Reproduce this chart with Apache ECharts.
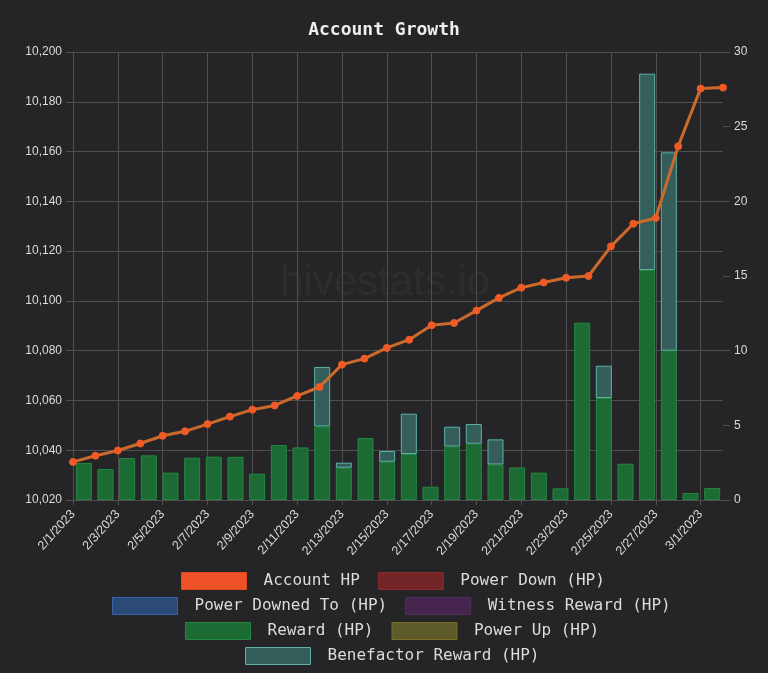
<!DOCTYPE html>
<html>
<head>
<meta charset="utf-8">
<script src="https://cdn.jsdelivr.net/npm/echarts@6/dist/echarts.min.js"></script>
<style>
html,body{margin:0;padding:0;background:#252527;}
#chart{width:768px;height:673px;}
</style>
</head>
<body>
<div id="chart"></div>
<script>
const dates = ['2/1/2023','2/2/2023','2/3/2023','2/4/2023','2/5/2023','2/6/2023','2/7/2023','2/8/2023','2/9/2023','2/10/2023',
  '2/11/2023','2/12/2023','2/13/2023','2/14/2023','2/15/2023','2/16/2023','2/17/2023','2/18/2023','2/19/2023','2/20/2023',
  '2/21/2023','2/22/2023','2/23/2023','2/24/2023','2/25/2023','2/26/2023','2/27/2023','2/28/2023','3/1/2023','3/2/2023'];
const accountHP = [10035.3, 10037.8, 10039.9, 10042.7, 10045.8, 10047.6, 10050.5, 10053.5, 10056.3, 10058.0,
  10061.8, 10065.4, 10074.4, 10076.8, 10081.1, 10084.4, 10090.2, 10091.1, 10096.1, 10101.2,
  10105.3, 10107.4, 10109.3, 10110.0, 10121.9, 10131.0, 10133.3, 10162.1, 10185.3, 10185.7];
const rewardHP = [2.48, 2.08, 2.81, 2.99, 1.83, 2.83, 2.90, 2.89, 1.76, 3.68,
  3.52, 4.93, 2.16, 4.15, 2.56, 3.08, 0.89, 3.59, 3.77, 2.38,
  2.18, 1.83, 0.78, 11.87, 6.83, 2.43, 15.40, 10.00, 0.47, 0.80];
const benefactorHP = [null, null, null, null, null, null, null, null, null, null,
  null, 3.98, 0.34, null, 0.72, 2.70, null, 1.32, 1.32, 1.68,
  null, null, null, null, 2.16, null, 13.15, 13.28, null, null];
const powerDownHP = [];
const powerDownedToHP = [];
const witnessRewardHP = [];
const powerUpHP = [];

const gridColor = '#4f4f51';
const textColor = '#dcdcdc';
const mono = '"DejaVu Sans Mono", monospace';
const sans = '"Liberation Sans", Arial, sans-serif';

const colors = {
  account: {fill: '#f05228', border: '#e04a20'},
  powerDown: {fill: '#732528', border: '#8a2a2c'},
  powerDownedTo: {fill: '#2c4a78', border: '#3a62a8'},
  witness: {fill: '#45254e', border: '#54305e'},
  reward: {fill: '#1c6b34', border: '#23883f'},
  powerUp: {fill: '#5d5a2c', border: '#7a7020'},
  benef: {fill: '#355e5b', border: '#5bb3a8'}
};

function legendItem(name, c) {
  return {name: name, itemStyle: {color: c.fill, borderColor: c.border, borderWidth: 1}};
}
const legendBase = {
  padding: 0, itemWidth: 65, itemHeight: 17, itemGap: 18, icon: 'rect',
  selectedMode: false,
  textStyle: {color: textColor, fontFamily: mono, fontSize: 16, padding: [0, 0, 0, 12]}
};

const chart = echarts.init(document.getElementById('chart'));
chart.setOption({
  backgroundColor: '#252527',
  animation: false,
  title: {
    text: 'Account Growth', left: 'center', top: 16,
    textStyle: {color: '#eeeeee', fontFamily: mono, fontSize: 18, fontWeight: 'bold'}
  },
  graphic: [{
    type: 'text', left: 280, top: 262, silent: true,
    style: {text: 'hivestats.io', fill: 'rgba(255,255,255,0.04)', font: '42px "Liberation Sans", Arial, sans-serif'}
  }],
  legend: [
    Object.assign({}, legendBase, {left: 181, top: 572, data: [legendItem('Account HP', colors.account), legendItem('Power Down (HP)', colors.powerDown)]}),
    Object.assign({}, legendBase, {left: 112, top: 597, data: [legendItem('Power Downed To (HP)', colors.powerDownedTo), legendItem('Witness Reward (HP)', colors.witness)]}),
    Object.assign({}, legendBase, {left: 185, top: 622, data: [legendItem('Reward (HP)', colors.reward), legendItem('Power Up (HP)', colors.powerUp)]}),
    Object.assign({}, legendBase, {left: 245, top: 647, data: [legendItem('Benefactor Reward (HP)', colors.benef)]})
  ],
  grid: {left: 73, right: 45, top: 52, bottom: 173, containLabel: false},
  xAxis: [{
    type: 'category', data: dates, boundaryGap: false, position: 'bottom',
    axisLine: {show: true, lineStyle: {color: gridColor}},
    axisTick: {show: true, interval: 1, length: 5, lineStyle: {color: gridColor}},
    axisLabel: {interval: 1, rotate: 48, color: textColor, fontFamily: sans, fontSize: 12.5, margin: 12},
    splitLine: {show: true, interval: 1, lineStyle: {color: gridColor, width: 1}}
  }, {
    type: 'category', data: dates, boundaryGap: true, show: false, position: 'bottom'
  }],
  yAxis: [{
    type: 'value', min: 10020, max: 10200, interval: 20, position: 'left',
    axisLine: {show: true, lineStyle: {color: gridColor}},
    axisTick: {show: true, length: 7, lineStyle: {color: gridColor}},
    axisLabel: {color: textColor, fontFamily: sans, fontSize: 12, margin: 11,
      formatter: v => v.toLocaleString('en-US')},
    splitLine: {show: true, lineStyle: {color: gridColor, width: 1}}
  }, {
    type: 'value', min: 0, max: 30, interval: 5, position: 'right',
    axisLine: {show: false},
    axisTick: {show: true, length: 7, lineStyle: {color: gridColor}},
    axisLabel: {color: textColor, fontFamily: sans, fontSize: 12, margin: 11},
    splitLine: {show: false}
  }],
  series: [
    {
      name: 'Account HP', type: 'line', data: accountHP, xAxisIndex: 0, yAxisIndex: 0, z: 10,
      symbol: 'circle', symbolSize: 7,
      lineStyle: {color: '#cc6a2e', width: 3},
      itemStyle: {color: '#f05a24', borderColor: '#f05a24'}
    },
    {name: 'Power Down (HP)', type: 'bar', stack: 'hp', data: powerDownHP, xAxisIndex: 1, yAxisIndex: 1,
      itemStyle: {color: colors.powerDown.fill, borderColor: colors.powerDown.border, borderWidth: 1}},
    {name: 'Power Downed To (HP)', type: 'bar', stack: 'hp', data: powerDownedToHP, xAxisIndex: 1, yAxisIndex: 1,
      itemStyle: {color: colors.powerDownedTo.fill, borderColor: colors.powerDownedTo.border, borderWidth: 1}},
    {name: 'Witness Reward (HP)', type: 'bar', stack: 'hp', data: witnessRewardHP, xAxisIndex: 1, yAxisIndex: 1,
      itemStyle: {color: colors.witness.fill, borderColor: colors.witness.border, borderWidth: 1}},
    {name: 'Reward (HP)', type: 'bar', stack: 'hp', data: rewardHP, xAxisIndex: 1, yAxisIndex: 1, barWidth: 16,
      itemStyle: {color: colors.reward.fill, borderColor: colors.reward.border, borderWidth: 1}},
    {name: 'Power Up (HP)', type: 'bar', stack: 'hp', data: powerUpHP, xAxisIndex: 1, yAxisIndex: 1,
      itemStyle: {color: colors.powerUp.fill, borderColor: colors.powerUp.border, borderWidth: 1}},
    {name: 'Benefactor Reward (HP)', type: 'bar', stack: 'hp', data: benefactorHP, xAxisIndex: 1, yAxisIndex: 1, barWidth: 16,
      itemStyle: {color: colors.benef.fill, borderColor: colors.benef.border, borderWidth: 1}}
  ]
});
</script>
</body>
</html>
